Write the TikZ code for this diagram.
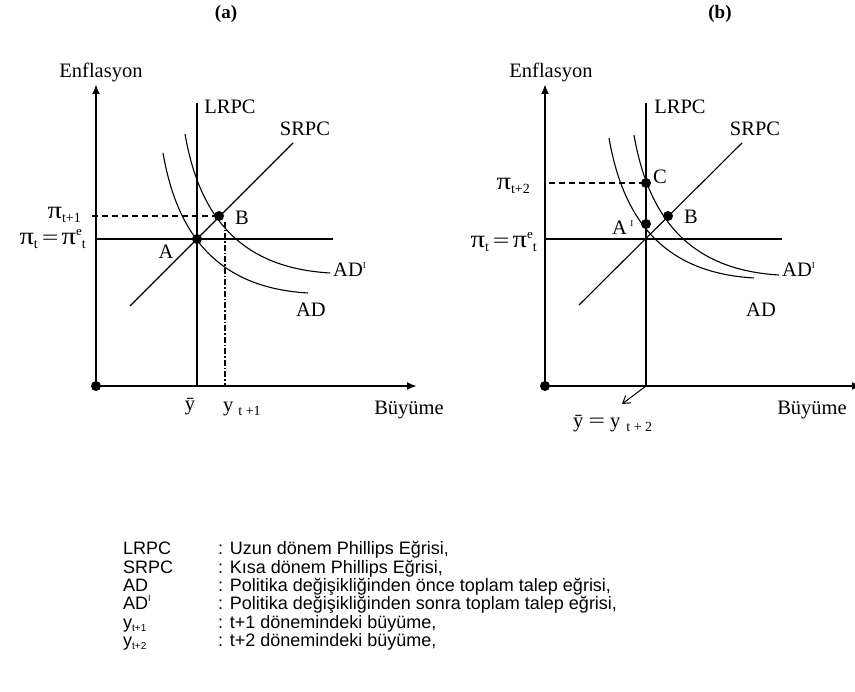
\documentclass[tikz,border=0pt]{standalone}
\usepackage{fontspec}
\usepackage{graphicx}
\setmainfont{Liberation Serif}
\newfontfamily\legfont{Liberation Sans}
\usetikzlibrary{arrows.meta}
\newcommand\lo[1]{\raisebox{-0.35ex}{\fontsize{14}{14}\selectfont #1}}
\newcommand\hi[1]{\raisebox{1.0ex}{\fontsize{13}{13}\selectfont #1}}
\newcommand\llo[1]{\raisebox{-0.35ex}{\fontsize{10}{10}\selectfont #1}}
\newcommand\lhi[1]{\raisebox{0.9ex}{\fontsize{9}{9}\selectfont #1}}
\newcommand\bigpi{\scalebox{1.4}[1.2]{π}}
\newcommand\bigeq{\scalebox{1.45}[1]{=}}
\begin{document}
\begin{tikzpicture}[x=1pt,y=-1pt,
  lbl/.style={inner sep=0pt, font=\fontsize{20.5}{22}\selectfont},
  ttl/.style={inner sep=0pt, font=\fontsize{19}{22}\selectfont\bfseries},
  leg/.style={inner sep=0pt, anchor=base west, font=\fontsize{18}{20}\selectfont\legfont},
  axis/.style={line width=2pt, -{Latex[length=10pt,width=8pt]}},
  ln/.style={line width=1.1pt},
  dsh/.style={line width=1.1pt, dash pattern=on 6pt off 4pt},
  dshdot/.style={line width=1.1pt, dash pattern=on 6pt off 2pt on 1.5pt off 2pt},
  dot/.style={circle, fill=black, inner sep=0pt, minimum size=10pt}]
\useasboundingbox (0,0) rectangle (855,692);

% ---------------- panel (a) ----------------
\node[ttl] (ta) at (226,14) {(a)};
\node[lbl] (ea) at (101,72) {Enflasyon};
\node[dot] (Oa) at (96,386) {};
\coordinate (Ya) at (96,84);
\coordinate (Xa) at (417,386);
\draw[axis] (Oa.center) -- (Ya);
\draw[axis] (Oa.center) -- (Xa);
\coordinate (La1) at (197,103);
\coordinate (La2) at (197,386);
\draw[ln] (La1) -- (La2);
\coordinate (Sa1) at (130,306);
\coordinate (Sa2) at (293,143);
\draw[ln] (Sa1) -- (Sa2);
\coordinate (Ha1) at (96,239);
\coordinate (Ha2) at (333,239);
\draw[ln] (Ha1) -- (Ha2);
\coordinate (ADa1) at (163,153);
\coordinate (ADa2) at (308,293);
\draw[ln] (ADa1) .. controls (178,240) and (222,288) .. (ADa2);
\coordinate (ADpa1) at (185,134);
\coordinate (ADpa2) at (330,273);
\draw[ln] (ADpa1) .. controls (200,221) and (244,268) .. (ADpa2);
\node[dot] (A) at (197,239) {};
\node[dot] (B) at (219,216) {};
\coordinate (Pa) at (92,216);
\draw[dsh] (Pa) -- (B);
\coordinate (Va1) at (225,222);
\coordinate (Va2) at (225,386);
\draw[dshdot] (Va1) -- (Va2);
\node[lbl] (lLa) at (230,107) {LRPC};
\node[lbl] (lSa) at (305,129) {SRPC};
\node[lbl] (lBa) at (242,218) {B};
\node[lbl] (lAa) at (166,252) {A};
\node[lbl, anchor=base west] (lADpa) at (333,277) {AD\lhi{I}};
\node[lbl] (lADa) at (311,310) {AD};
\node[lbl, anchor=base east] (pa1) at (81,219) {\bigpi\lo{t+1}};
\node[lbl, anchor=base east] (pa0) at (86,245) {\bigpi\lo{t}\hspace{4pt}\bigeq\hspace{3pt}\bigpi\hi{e}\lo{t}};
\node[lbl] (yba) at (190,407) {\=y};
\node[lbl, anchor=base west] (yta) at (223,412) {y\hspace{5pt}\lo{t +1}};
\node[lbl] (bua) at (409,410) {Büyüme};

% ---------------- panel (b) ----------------
\node[ttl] (tb) at (720,14) {(b)};
\node[lbl] (eb) at (551,72) {Enflasyon};
\node[dot] (Ob) at (545,386) {};
\coordinate (Yb) at (545,84);
\coordinate (Xb) at (862,386);
\draw[axis] (Ob.center) -- (Yb);
\draw[axis] (Ob.center) -- (Xb);
\coordinate (Lb1) at (646,103);
\coordinate (Lb2) at (646,386);
\draw[ln] (Lb1) -- (Lb2);
\coordinate (Sb1) at (579,305);
\coordinate (Sb2) at (742,143);
\draw[ln] (Sb1) -- (Sb2);
\coordinate (Hb1) at (545,239);
\coordinate (Hb2) at (782,239);
\draw[ln] (Hb1) -- (Hb2);
\coordinate (ADb1) at (609,138);
\coordinate (ADb2) at (754,278);
\draw[ln] (ADb1) .. controls (624,225) and (668,273) .. (ADb2);
\coordinate (ADpb1) at (634,135);
\coordinate (ADpb2) at (779,275);
\draw[ln] (ADpb1) .. controls (649,222) and (693,270) .. (ADpb2);
\node[dot] (C) at (646,183) {};
\node[dot] (A1) at (646,224) {};
\node[dot] (Bb) at (668,216) {};
\coordinate (Pb) at (549,183);
\draw[dsh] (Pb) -- (C);
\coordinate (Ar) at (622,404);
\draw[line width=1pt, -{Straight Barb[length=7pt,width=9pt]}] (Lb2) -- (Ar);
\node[lbl] (lLb) at (680,107) {LRPC};
\node[lbl] (lSb) at (755,129) {SRPC};
\node[lbl] (lCb) at (660,177) {C};
\node[lbl] (lBb) at (691,217) {B};
\node[lbl, anchor=base west] (lAb) at (612,235) {A\,\lhi{I}};
\node[lbl, anchor=base west] (lADpb) at (782,277) {AD\lhi{I}};
\node[lbl] (lADb) at (761,310) {AD};
\node[lbl, anchor=base east] (pb2) at (530,190) {\bigpi\lo{t+2}};
\node[lbl, anchor=base east] (pb0) at (537,248) {\bigpi\lo{t}\hspace{4pt}\bigeq\hspace{3pt}\bigpi\hi{e}\lo{t}};
\node[lbl, anchor=base west] (ybb) at (573,428) {\=y\hspace{5pt}\bigeq\hspace{5pt}y\hspace{6pt}\lo{t + 2}};
\node[lbl] (bub) at (812,410) {Büyüme};

% ---------------- legend ----------------
\node[leg] (k1) at (123,555) {LRPC};
\node[leg] (k2) at (123,574) {SRPC};
\node[leg] (k3) at (123,592) {AD};
\node[leg] (k4) at (123,610) {AD\lhi{I}};
\node[leg] (k5) at (123,628) {y\llo{t+1}};
\node[leg] (k6) at (123,646) {y\llo{t+2}};
\node[leg] (d1) at (218,555) {: Uzun dönem Phillips Eğrisi,};
\node[leg] (d2) at (218,574) {: Kısa dönem Phillips Eğrisi,};
\node[leg] (d3) at (218,592) {: Politika değişikliğinden önce toplam talep eğrisi,};
\node[leg] (d4) at (218,610) {: Politika değişikliğinden sonra toplam talep eğrisi,};
\node[leg] (d5) at (218,628) {: t+1 dönemindeki büyüme,};
\node[leg] (d6) at (218,646) {: t+2 dönemindeki büyüme,};
\end{tikzpicture}
\end{document}
